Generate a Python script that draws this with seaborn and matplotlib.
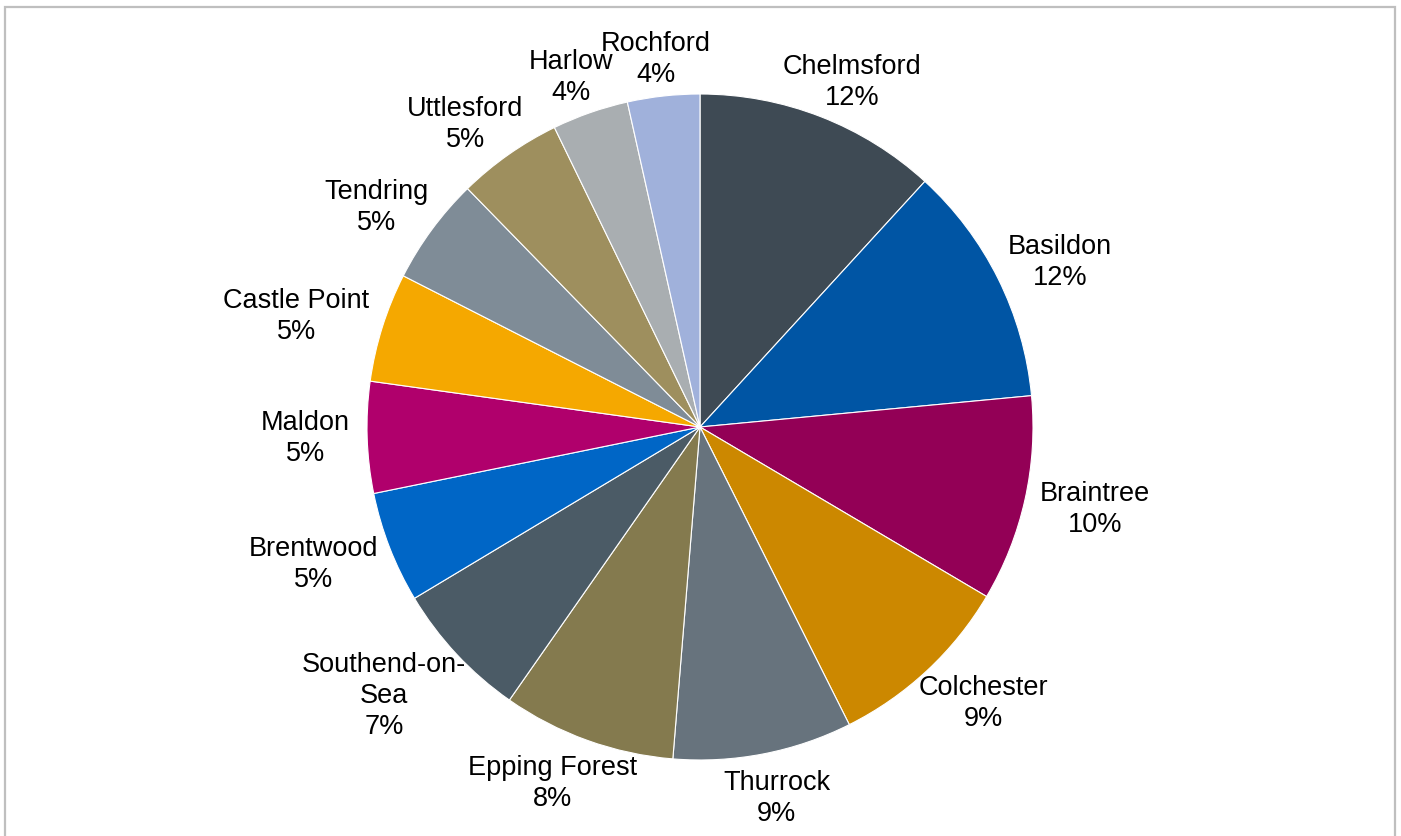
import textwrap
import numpy as np
import matplotlib
matplotlib.use("Agg")
import matplotlib.pyplot as plt
from matplotlib.patches import Rectangle
import seaborn as sns

districts = ["Chelmsford", "Basildon", "Braintree", "Colchester", "Thurrock",
             "Epping Forest", "Southend-on-Sea", "Brentwood", "Maldon",
             "Castle Point", "Tendring", "Uttlesford", "Harlow", "Rochford"]
shares = [11.8, 11.7, 10.0, 9.1, 8.7, 8.4, 6.7, 5.4, 5.4, 5.3, 5.2, 5.1, 3.7, 3.5]
colors = ["#3E4A54", "#0055A4", "#930056", "#CC8800", "#67737D",
          "#847A4E", "#4B5B66", "#0066C6", "#B0006C", "#F5A800",
          "#7F8C97", "#9E8F5E", "#A9AEB1", "#A0B1DB"]

sns.set_theme(style="white")
plt.rcParams["font.family"] = ["Liberation Sans", "DejaVu Sans"]

W, H, DPI = 1401, 836, 100
fig = plt.figure(figsize=(W / DPI, H / DPI), dpi=DPI)
fig.patch.set_facecolor("white")

# pie centre (700, 427) px from top-left, radius 333 px
R = 333.0
cx, cy = 700.0, 427.0
ax = fig.add_axes([0, 0, 1, 1])
palette = sns.color_palette(colors)

total = sum(shares)
labels = [f"{textwrap.fill(d, 13)}\n{round(v / total * 100):.0f}%" for d, v in zip(districts, shares)]

wedges, _ = ax.pie(shares, colors=palette, startangle=90, counterclock=False,
                   wedgeprops=dict(edgecolor="white", linewidth=0.8))

ax.set_xlim(-cx / R, (W - cx) / R)
ax.set_ylim(-(H - cy) / R, cy / R)
ax.set_aspect("auto")
ax.axis("off")

texts = []
for w, lab in zip(wedges, labels):
    t = ax.text(0, 0, lab, fontsize=19.5, color="#000000", ha="center",
                va="center", multialignment="center", linespacing=1.25)
    texts.append(t)

fig.canvas.draw()
renderer = fig.canvas.get_renderer()
anchor = 350.0  # px from centre
for w, t in zip(wedges, texts):
    ang = np.deg2rad((w.theta1 + w.theta2) / 2.0)
    ux, uy = np.cos(ang), np.sin(ang)
    bb = t.get_window_extent(renderer)
    vf = 0.7 if uy > 0 else 1.0
    px = anchor * ux + ux * bb.width / 2.0
    py = anchor * uy + vf * uy * bb.height / 2.0
    t.set_position((px / R, py / R))

# outer chart border (gray frame)
fig.patches.append(Rectangle((5 / W, -0.05), (1395 - 5) / W, 1.05 - 7 / H,
                             transform=fig.transFigure, fill=False,
                             edgecolor="#BFBFBF", linewidth=1.6))

fig.savefig("out.png", dpi=DPI, facecolor="white")
